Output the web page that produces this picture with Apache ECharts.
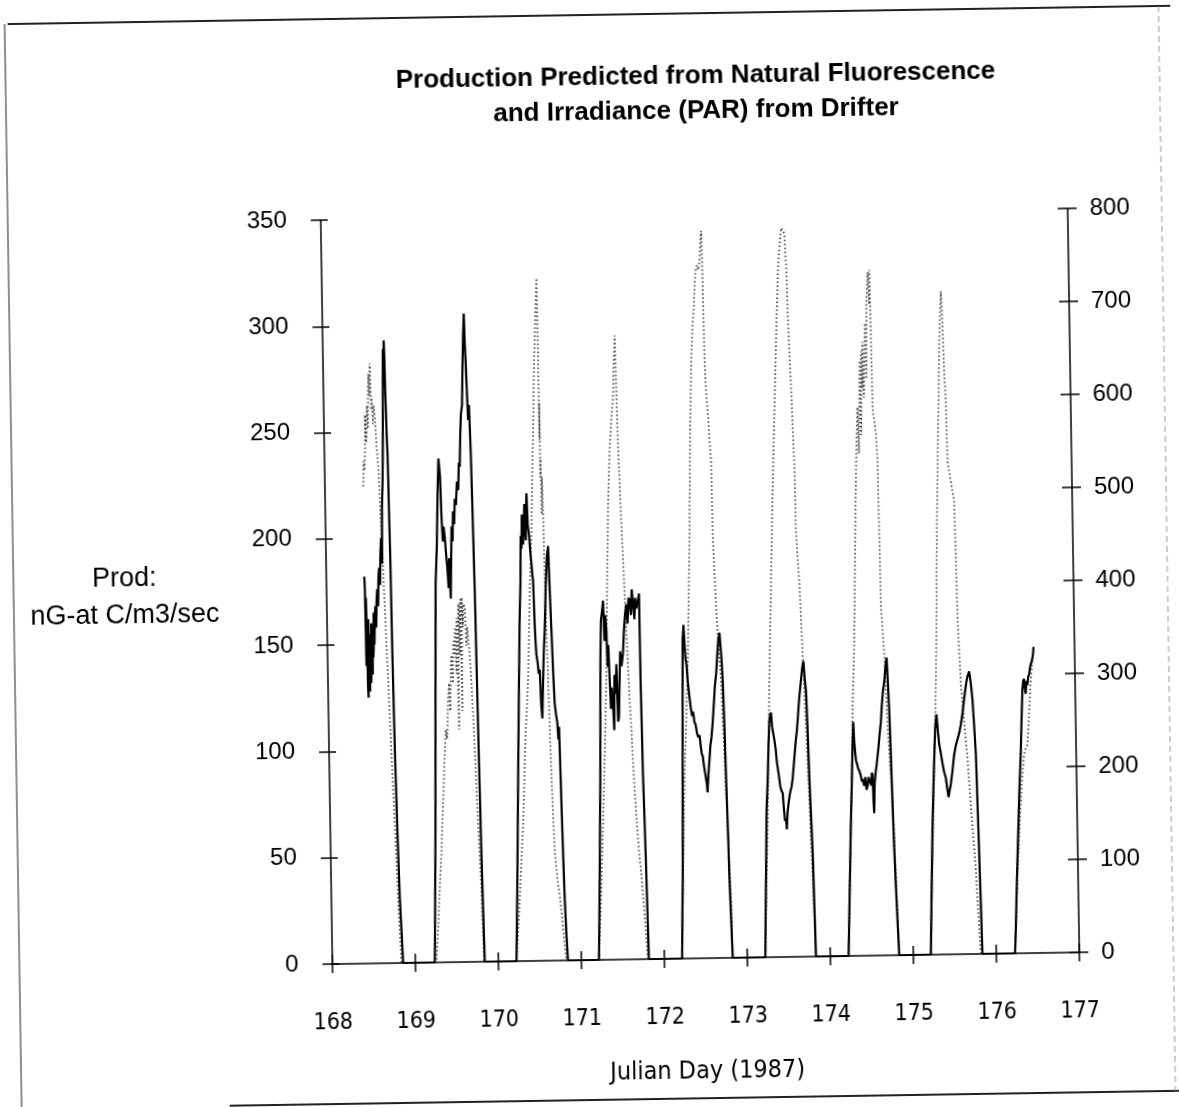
<!DOCTYPE html>
<html>
<head>
<meta charset="utf-8">
<script src="https://cdn.jsdelivr.net/npm/echarts@6/dist/echarts.min.js"></script>
<style>
html,body{margin:0;padding:0;background:#fff;overflow:hidden;}
#chart{width:1179px;height:1107px;transform:rotate(-0.9deg);transform-origin:589px 553px;background:#fff;}
</style>
</head>
<body>
<div id="chart"></div>
<script>
// ---- Data: [Julian day, production nG-at C/m3/sec] (left axis) ----
const prod168 = [[168.457,182],[168.462,176],[168.467,140],[168.472,172],[168.477,158],[168.482,130],[168.487,125],[168.492,150],[168.497,162],[168.502,138],[168.507,128],[168.512,145],[168.517,155],[168.522,132],[168.527,140],[168.532,160],[168.537,150],[168.542,136],[168.547,158],[168.552,144],[168.557,148],[168.562,165],[168.567,150],[168.575,160],[168.584,168],[168.592,158],[168.601,171],[168.610,176],[168.619,168],[168.628,182],[168.637,186],[168.646,178],[168.655,192],[168.665,200],[168.675,188],[168.683,214],[168.693,224],[168.703,238],[168.713,262],[168.723,289],[168.730,280],[168.735,293],[168.740,286],[168.744,270],[168.748,262],[168.752,252],[168.756,245],[168.760,240],[168.764,228],[168.768,210],[168.774,190],[168.781,145],[168.793,100],[168.808,62],[168.825,30],[168.853,0]];
const prod169 = [[169.234,0],[169.250,30],[169.267,63],[169.290,120],[169.315,178],[169.337,196],[169.355,220],[169.372,237],[169.389,228],[169.398,210],[169.410,198],[169.422,205],[169.434,200],[169.447,192],[169.460,185],[169.472,176],[169.483,190],[169.495,171],[169.505,186],[169.517,205],[169.528,198],[169.537,212],[169.550,206],[169.562,218],[169.575,215],[169.590,226],[169.605,222],[169.618,235],[169.628,233],[169.640,248],[169.652,258],[169.667,262],[169.680,280],[169.692,294],[169.705,305],[169.712,290],[169.717,285],[169.727,270],[169.737,255],[169.750,262],[169.763,240],[169.772,215],[169.785,175],[169.800,110],[169.816,50],[169.836,0]];
const prod170 = [[170.218,0],[170.245,40],[170.273,87],[170.300,130],[170.320,160],[170.338,179],[170.348,200],[170.356,194],[170.366,210],[170.376,196],[170.388,205],[170.398,215],[170.410,198],[170.418,212],[170.426,220],[170.436,205],[170.450,200],[170.462,192],[170.473,187],[170.482,182],[170.490,179],[170.500,160],[170.508,150],[170.516,144],[170.530,140],[170.540,135],[170.553,137],[170.565,120],[170.576,114],[170.590,130],[170.605,145],[170.621,156],[170.640,175],[170.660,190],[170.677,195],[170.690,172],[170.701,156],[170.715,135],[170.727,121],[170.740,116],[170.755,112],[170.765,104],[170.775,110],[170.789,75],[170.800,50],[170.811,29],[170.825,12],[170.839,0]];
const prod171 = [[171.212,0],[171.240,45],[171.263,87],[171.285,140],[171.300,160],[171.318,165],[171.328,169],[171.340,150],[171.352,162],[171.363,155],[171.372,138],[171.383,148],[171.394,132],[171.404,118],[171.416,128],[171.429,121],[171.440,108],[171.452,134],[171.465,125],[171.477,139],[171.488,112],[171.499,114],[171.512,130],[171.525,145],[171.540,138],[171.559,144],[171.575,155],[171.590,162],[171.608,167],[171.620,158],[171.635,170],[171.649,169],[171.662,162],[171.676,174],[171.691,174],[171.703,160],[171.715,170],[171.728,165],[171.745,168],[171.763,172],[171.766,132],[171.777,87],[171.790,60],[171.798,41],[171.806,20],[171.814,0]];
const prod172 = [[172.214,0],[172.225,20],[172.237,38],[172.260,100],[172.280,150],[172.293,157],[172.302,148],[172.311,141],[172.322,138],[172.335,130],[172.352,123],[172.365,118],[172.380,114],[172.393,116],[172.407,111],[172.420,110],[172.435,106],[172.450,104],[172.465,105],[172.478,100],[172.490,96],[172.501,95],[172.515,90],[172.530,86],[172.545,82],[172.552,78],[172.565,86],[172.580,93],[172.595,100],[172.610,104],[172.627,111],[172.645,120],[172.660,128],[172.678,134],[172.693,142],[172.710,150],[172.725,153],[172.738,145],[172.748,138],[172.756,130],[172.767,110],[172.778,84],[172.790,60],[172.799,38],[172.812,18],[172.824,0]];
const prod173 = [[173.217,0],[173.228,20],[173.240,38],[173.260,70],[173.279,84],[173.295,100],[173.309,111],[173.320,114],[173.331,115],[173.342,108],[173.355,105],[173.367,102],[173.380,98],[173.392,92],[173.402,89],[173.415,85],[173.430,80],[173.445,78],[173.457,77],[173.468,70],[173.480,64],[173.492,65],[173.500,60],[173.512,68],[173.525,72],[173.536,75],[173.550,78],[173.565,80],[173.580,84],[173.595,90],[173.610,96],[173.625,102],[173.638,106],[173.650,111],[173.665,118],[173.680,124],[173.698,130],[173.715,136],[173.731,139],[173.745,130],[173.757,125],[173.768,108],[173.781,84],[173.795,65],[173.807,49],[173.817,25],[173.827,0]];
const prod174 = [[174.220,0],[174.235,18],[174.251,37],[174.270,60],[174.293,83],[174.308,100],[174.320,110],[174.328,101],[174.337,96],[174.346,92],[174.360,90],[174.372,88],[174.384,87],[174.400,85],[174.412,82],[174.422,83],[174.440,80],[174.455,84],[174.468,78],[174.481,80],[174.495,84],[174.510,82],[174.525,80],[174.535,86],[174.543,85],[174.550,72],[174.556,67],[174.565,80],[174.580,86],[174.595,90],[174.607,94],[174.620,98],[174.635,104],[174.653,110],[174.668,118],[174.683,124],[174.702,129],[174.718,136],[174.734,140],[174.745,128],[174.756,115],[174.767,95],[174.778,71],[174.790,50],[174.803,32],[174.817,15],[174.830,0]];
const prod175 = [[175.211,0],[175.232,30],[175.255,60],[175.280,85],[175.305,106],[175.315,110],[175.324,113],[175.338,105],[175.351,99],[175.368,95],[175.387,90],[175.405,86],[175.425,83],[175.440,78],[175.454,74],[175.468,77],[175.484,80],[175.505,86],[175.530,94],[175.550,98],[175.572,101],[175.594,104],[175.615,108],[175.637,113],[175.660,120],[175.682,126],[175.700,130],[175.725,133],[175.742,128],[175.760,120],[175.775,108],[175.791,94],[175.802,70],[175.812,48],[175.822,25],[175.833,0]];
const prod176 = [[176.226,0],[176.240,12],[176.252,25],[176.270,42],[176.290,60],[176.310,78],[176.332,94],[176.348,110],[176.364,124],[176.375,128],[176.386,129],[176.395,124],[176.403,122],[176.414,128],[176.425,126],[176.436,130],[176.447,131],[176.458,134],[176.469,136],[176.480,137],[176.491,139],[176.500,141],[176.505,144]];

// ---- Data: [Julian day, PAR] (right axis) ----
const par168 = [[168.462,513],[168.470,540],[168.480,530],[168.488,545],[168.495,590],[168.505,560],[168.512,566],[168.520,600],[168.530,575],[168.537,620],[168.544,634],[168.552,610],[168.560,645],[168.566,640],[168.572,595],[168.579,608],[168.590,580],[168.600,600],[168.615,587],[168.630,555],[168.646,534],[168.660,495],[168.673,460],[168.686,420],[168.699,382],[168.712,340],[168.726,303],[168.739,262],[168.752,224],[168.765,185],[168.779,145],[168.792,105],[168.805,66],[168.820,30],[168.833,0]];
const par169 = [[169.254,0],[169.280,35],[169.308,80],[169.335,120],[169.360,165],[169.393,224],[169.410,250],[169.425,240],[169.443,280],[169.458,300],[169.470,270],[169.482,320],[169.493,330],[169.505,300],[169.515,345],[169.527,330],[169.538,360],[169.550,310],[169.560,370],[169.572,250],[169.583,385],[169.595,330],[169.605,390],[169.615,270],[169.624,392],[169.635,360],[169.648,385],[169.662,380],[169.675,340],[169.688,360],[169.698,360],[169.712,330],[169.728,300],[169.742,265],[169.755,230],[169.768,190],[169.782,150],[169.796,112],[169.809,75],[169.818,40],[169.828,0]];
const par170 = [[170.218,0],[170.250,40],[170.285,90],[170.305,120],[170.324,145],[170.345,190],[170.368,240],[170.390,270],[170.411,303],[170.430,350],[170.448,400],[170.465,430],[170.479,460],[170.492,500],[170.505,540],[170.518,566],[170.530,610],[170.545,650],[170.556,671],[170.568,700],[170.578,720],[170.587,734],[170.590,690],[170.592,645],[170.594,560],[170.596,600],[170.598,520],[170.601,540],[170.608,480],[170.615,520],[170.620,510],[170.626,450],[170.631,408],[170.642,350],[170.652,303],[170.663,250],[170.674,198],[170.687,155],[170.700,118],[170.715,100],[170.730,85],[170.751,71],[170.770,52],[170.790,30],[170.805,14],[170.819,0]];
const par171 = [[171.212,0],[171.250,70],[171.286,145],[171.320,220],[171.354,303],[171.380,400],[171.407,487],[171.422,520],[171.438,550],[171.455,570],[171.470,590],[171.487,603],[171.500,640],[171.510,655],[171.519,671],[171.524,640],[171.528,608],[171.535,570],[171.542,540],[171.551,513],[171.560,480],[171.568,455],[171.577,434],[171.588,400],[171.597,370],[171.603,355],[171.615,320],[171.630,280],[171.645,250],[171.660,210],[171.675,180],[171.689,155],[171.705,130],[171.720,110],[171.738,92],[171.755,70],[171.770,48],[171.786,24],[171.802,0]];
const par172 = [[172.214,0],[172.245,100],[172.276,192],[172.310,260],[172.340,324],[172.362,390],[172.383,455],[172.398,520],[172.411,571],[172.425,610],[172.440,650],[172.452,670],[172.464,687],[172.478,700],[172.492,725],[172.505,739],[172.520,745],[172.538,740],[172.555,750],[172.568,770],[172.581,782],[172.585,760],[172.589,718],[172.593,680],[172.597,645],[172.605,620],[172.615,600],[172.626,587],[172.640,560],[172.657,534],[172.660,490],[172.663,455],[172.676,415],[172.690,376],[172.712,335],[172.736,297],[172.749,258],[172.762,218],[172.775,178],[172.788,139],[172.801,100],[172.815,61],[172.824,0]];
const par173 = [[173.217,0],[173.242,70],[173.269,139],[173.293,220],[173.317,297],[173.336,350],[173.356,403],[173.375,455],[173.395,508],[173.412,548],[173.429,587],[173.446,626],[173.463,666],[173.480,700],[173.495,734],[173.512,755],[173.528,770],[173.544,784],[173.560,782],[173.572,780],[173.583,776],[173.590,760],[173.597,745],[173.603,720],[173.608,692],[173.620,652],[173.634,613],[173.646,570],[173.659,529],[173.663,490],[173.666,455],[173.680,430],[173.697,403],[173.710,365],[173.723,324],[173.737,285],[173.750,245],[173.763,205],[173.776,166],[173.789,125],[173.802,84],[173.815,42],[173.827,0]];
const par174 = [[174.220,0],[174.245,70],[174.272,137],[174.295,200],[174.315,268],[174.330,300],[174.347,337],[174.365,400],[174.383,466],[174.400,520],[174.416,561],[174.430,590],[174.440,540],[174.455,603],[174.465,640],[174.472,560],[174.483,650],[174.492,610],[174.500,660],[174.510,600],[174.522,640],[174.535,680],[174.545,620],[174.557,700],[174.568,720],[174.578,735],[174.590,700],[174.599,737],[174.603,700],[174.606,666],[174.610,620],[174.612,587],[174.630,575],[174.648,561],[174.655,545],[174.662,529],[174.666,490],[174.669,455],[174.672,420],[174.675,376],[174.690,350],[174.707,324],[174.720,285],[174.733,245],[174.756,205],[174.779,166],[174.792,125],[174.805,84],[174.818,42],[174.830,0]];
const par175 = [[175.211,0],[175.237,70],[175.263,137],[175.293,215],[175.323,295],[175.340,350],[175.355,420],[175.370,480],[175.382,516],[175.395,560],[175.410,600],[175.426,655],[175.440,685],[175.456,713],[175.463,700],[175.470,676],[175.476,650],[175.482,624],[175.489,610],[175.496,592],[175.500,560],[175.505,529],[175.520,520],[175.541,508],[175.560,497],[175.578,487],[175.582,455],[175.587,424],[175.592,392],[175.596,361],[175.610,325],[175.623,292],[175.640,270],[175.656,250],[175.672,230],[175.689,213],[175.705,185],[175.720,161],[175.745,125],[175.769,92],[175.790,45],[175.813,0]];
const par176 = [[176.226,0],[176.248,40],[176.269,84],[176.295,125],[176.322,161],[176.346,190],[176.371,213],[176.392,220],[176.414,224],[176.427,240],[176.440,258],[176.453,275],[176.466,292],[176.478,305],[176.491,318]];

// ---- Axis ticks ----
const dayTicks = [168,169,170,171,172,173,174,175,176,177];
const prodTicks = [0,50,100,150,200,250,300,350];
const parTicks = [0,100,200,300,400,500,600,700,800];

const prodSeries = [].concat(prod168,prod169,prod170,prod171,prod172,prod173,prod174,prod175,prod176);
const parSeries = [].concat(par168,par169,par170,par171,par172,par173,par174,par175,par176);

const LAB = "'Liberation Sans', Arial, Helvetica, sans-serif";
const NARROW = "'Liberation Sans Narrow', 'DejaVu Sans Condensed', 'Liberation Sans', sans-serif";

const chart = echarts.init(document.getElementById('chart'), null, {renderer:'canvas'});
const grid = {left:326, right:106, top:216, height:744};
const axisLineStyle = {color:'#000', width:1.5};

chart.setOption({
  animation:false,
  backgroundColor:'#fff',
  title:{
    text:'Production Predicted from Natural Fluorescence\nand Irradiance (PAR) from Drifter',
    left:698, top:55, textAlign:'center',
    textStyle:{fontFamily:LAB, fontWeight:'bold', fontSize:26, lineHeight:35, color:'#000'}
  },
  grid:grid,
  xAxis:[{
    type:'value', min:dayTicks[0], max:dayTicks[dayTicks.length-1], interval:1,
    position:'bottom',
    axisLine:{show:true, onZero:false, lineStyle:axisLineStyle},
    axisTick:{show:true, inside:false, length:9, lineStyle:axisLineStyle},
    axisLabel:{show:true, margin:48, fontFamily:NARROW, fontSize:23, color:'#000'},
    splitLine:{show:false},
    name:'Julian Day (1987)', nameLocation:'middle', nameGap:101,
    nameTextStyle:{fontFamily:NARROW, fontSize:25, color:'#000'}
  },{
    type:'value', min:dayTicks[0], max:dayTicks[dayTicks.length-1], interval:1,
    position:'bottom',
    axisLine:{show:false},
    axisTick:{show:true, inside:true, length:9, lineStyle:axisLineStyle},
    axisLabel:{show:false}, splitLine:{show:false}
  }],
  yAxis:[{
    type:'value', min:prodTicks[0], max:prodTicks[prodTicks.length-1], interval:50,
    position:'left',
    axisLine:{show:true, onZero:false, lineStyle:axisLineStyle},
    axisTick:{show:true, inside:false, length:10, lineStyle:axisLineStyle},
    axisLabel:{margin:34, fontFamily:LAB, fontSize:24, color:'#000'},
    splitLine:{show:false}
  },{
    type:'value', min:parTicks[0], max:parTicks[parTicks.length-1], interval:100,
    position:'right',
    axisLine:{show:true, onZero:false, lineStyle:axisLineStyle},
    axisTick:{show:true, inside:false, length:9, lineStyle:axisLineStyle},
    axisLabel:{margin:22, fontFamily:LAB, fontSize:24, color:'#000'},
    splitLine:{show:false}
  },{
    type:'value', min:prodTicks[0], max:prodTicks[prodTicks.length-1], interval:50,
    position:'left',
    axisLine:{show:false},
    axisTick:{show:true, inside:true, length:7, lineStyle:axisLineStyle},
    axisLabel:{show:false}, splitLine:{show:false}
  },{
    type:'value', min:parTicks[0], max:parTicks[parTicks.length-1], interval:100,
    position:'right',
    axisLine:{show:false},
    axisTick:{show:true, inside:true, length:10, lineStyle:axisLineStyle},
    axisLabel:{show:false}, splitLine:{show:false}
  }],
  graphic:[
    {type:'text', x:124, y:590, style:{text:'Prod:\nnG-at C/m3/sec', x:0, y:0, textAlign:'center', textVerticalAlign:'middle', font:"27px 'Liberation Sans', Arial, sans-serif", lineHeight:37, fill:'#000'}},
    {type:'line', shape:{x1:16, y1:15, x2:1179, y2:15}, style:{stroke:'#222', lineWidth:2}},
    {type:'line', shape:{x1:13, y1:15, x2:13, y2:1107}, style:{stroke:'#444', lineWidth:1.2}},
    {type:'line', shape:{x1:221, y1:1100, x2:1179, y2:1100}, style:{stroke:'#222', lineWidth:2}},
    {type:'line', shape:{x1:1167, y1:15, x2:1167, y2:1100}, style:{stroke:'#999', lineWidth:1, lineDash:[6,4]}}
  ],
  series:[{
    name:'PAR', type:'line', xAxisIndex:0, yAxisIndex:1,
    data:parSeries, showSymbol:false, symbol:'none',
    lineStyle:{color:'#4a4a4a', width:1.8, type:[1.5,2.5]}, z:2
  },{
    name:'Production', type:'line', xAxisIndex:0, yAxisIndex:0,
    data:prodSeries, showSymbol:false, symbol:'none',
    lineStyle:{color:'#000', width:2.2}, z:3
  }]
});
</script>
</body>
</html>
